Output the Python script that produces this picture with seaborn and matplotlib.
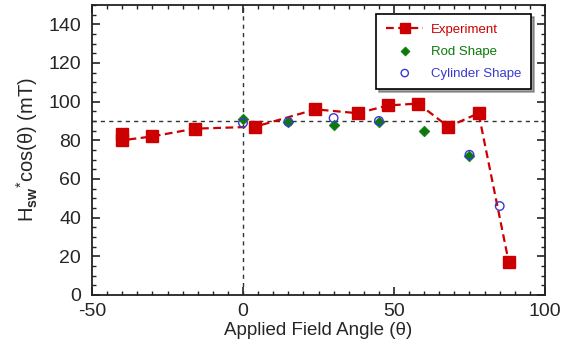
import matplotlib
matplotlib.use("Agg")
import matplotlib.pyplot as plt
from matplotlib.ticker import MultipleLocator
import seaborn as sns
import pandas as pd

# Data
exp_angle = [-40, -40, -30, -16, 4, 24, 38, 48, 58, 68, 78, 88]
exp_h = [83, 80, 82, 86, 87, 96, 94, 98, 99, 87, 94, 17]
rod_angle = [0, 15, 30, 45, 60, 75]
rod_h = [91, 89.5, 88, 89.5, 85, 72]
cyl_angle = [0, 15, 30, 45, 75, 85]
cyl_h = [89, 89.5, 91.5, 90, 72.5, 46]

x_ticks = [-50, 0, 50, 100]
y_ticks = [0, 20, 40, 60, 80, 100, 120, 140]

sns.set_theme(style="ticks")
plt.rcParams['font.family'] = ['Liberation Sans', 'DejaVu Sans']
plt.rcParams['mathtext.fontset'] = 'custom'
plt.rcParams['mathtext.rm'] = 'Liberation Sans'
plt.rcParams['mathtext.bf'] = 'Liberation Sans:bold'
plt.rcParams['axes.unicode_minus'] = False

fig = plt.figure(figsize=(5.68, 3.52), dpi=100)
ax = fig.add_axes([0.162, 0.162, 0.7975, 0.824])

red = "#cc0000"
green = "#0b7a0b"
blue = "#3a3ad0"

ax.axhline(90, color="#333333", ls=(0, (3, 3)), lw=1, zorder=1)
ax.axvline(0, color="#333333", ls=(0, (3, 3)), lw=1, zorder=1)

df_exp = pd.DataFrame({"angle": exp_angle, "h": exp_h})
df_rod = pd.DataFrame({"angle": rod_angle, "h": rod_h})
df_cyl = pd.DataFrame({"angle": cyl_angle, "h": cyl_h})

ax.plot(df_exp["angle"], df_exp["h"], color=red, ls=(0, (3.5, 2)), lw=1.6,
        marker="s", markersize=9, markerfacecolor=red, markeredgecolor=red,
        label="Experiment", zorder=3)
sns.scatterplot(data=df_rod, x="angle", y="h", ax=ax, marker="D", s=30,
                color=green, edgecolor=green, label="Rod Shape", zorder=4)
sns.scatterplot(data=df_cyl, x="angle", y="h", ax=ax, marker="o", s=38,
                facecolor="none", edgecolor=blue, linewidth=1.0,
                label="Cylinder Shape", zorder=5)

ax.set_xlim(-50, 100)
ax.set_ylim(0, 150)
ax.set_xticks(x_ticks)
ax.set_yticks(y_ticks)
ax.xaxis.set_minor_locator(MultipleLocator(5))
ax.yaxis.set_minor_locator(MultipleLocator(5))
ax.tick_params(which="both", direction="in", top=True, right=True,
               labelsize=14, color="#222222")
ax.tick_params(which="major", length=6, width=1.2)
ax.tick_params(which="minor", length=3, width=1.0)
ax.tick_params(axis="x", which="major", pad=6)
ax.tick_params(axis="y", which="major", pad=8)
for s in ax.spines.values():
    s.set_color("#222222")
    s.set_linewidth(1.3)

ax.set_xlabel("Applied Field Angle (θ)", fontsize=13.5, labelpad=1)
ax.set_ylabel(r"H$_{\mathbf{sw}}$$^{*}$cos(θ) (mT)", fontsize=14.5, labelpad=6)

leg = ax.legend(loc="upper right", bbox_to_anchor=(0.97, 0.969),
                borderaxespad=0, frameon=True, fancybox=False, shadow=True,
                edgecolor="black", fontsize=9.5, handlelength=2.8,
                handletextpad=0.6, labelspacing=0.72, borderpad=0.75,
                markerscale=0.85)
leg.get_frame().set_linewidth(1.2)
for txt, c in zip(leg.get_texts(), [red, green, blue]):
    txt.set_color(c)

fig.savefig("out.png", dpi=100)
